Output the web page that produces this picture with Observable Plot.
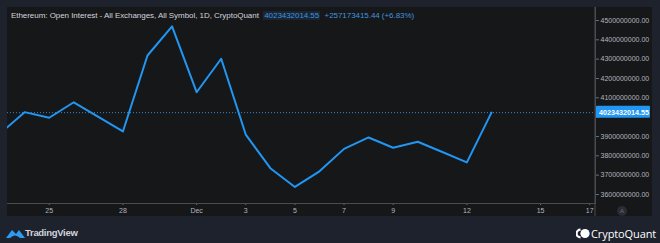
<!DOCTYPE html>
<html>
<head>
<meta charset="utf-8">
<script src="https://cdn.jsdelivr.net/npm/d3@7"></script>
<script src="https://cdn.jsdelivr.net/npm/@observablehq/plot@0.6"></script>
<style>
  html, body { margin: 0; padding: 0; background: #1e222d; }
  #wrap { position: relative; width: 660px; height: 243px; overflow: hidden; background: #1e222d; font-family: "Liberation Sans", Arial, sans-serif; }
  #panel { position: absolute; left: 7px; top: 7px; width: 645px; height: 209px; background: #161719; }
  #chart { position: absolute; left: 0; top: 0; }
  #title { position: absolute; left: 11px; top: 11px; font-size: 8px; color: #d1d4dc; white-space: nowrap; letter-spacing: -0.05px; }
  #title .v { color: #3f95de; background: #1a2433; padding: 0 1px; }
  #title .c { color: #3f95de; }
  #tv { position: absolute; left: 25px; top: 227px; font-size: 9.5px; color: #d1d4dc; font-weight: bold; letter-spacing: -0.3px; }
  #cq { position: absolute; left: 591px; top: 226px; font-size: 11px; color: #ffffff; font-family: "Open Sans", "Liberation Sans", sans-serif; letter-spacing: -0.1px; }
  #abtn { position: absolute; left: 617px; top: 206px; width: 10px; height: 10px; border-radius: 5px; background: #2a2c33; color: #6b6e76; font-size: 6px; text-align: center; line-height: 10px; }
</style>
</head>
<body>
<div id="wrap">
  <div id="panel"></div>
  <div id="chart"></div>
  <div id="title">Ethereum: Open Interest - All Exchanges, All Symbol, 1D, CryptoQuant&nbsp; <span class="v">4023432014.55</span>&nbsp; <span class="c">+257173415.44 (+6.83%)</span></div>
  <div id="abtn">A</div>
  <svg style="position:absolute;left:6px;top:227px" width="19" height="12" viewBox="0 0 19 12">
    <path d="M0 11 L6 3 L10 7 L13 3 L19 11 Z" fill="#2d9bf0"/>
    <path d="M4 11 Q9 6 14 11 Z" fill="#1e222d"/>
  </svg>
  <div id="tv">TradingView</div>
  <svg style="position:absolute;left:576px;top:228px" width="14" height="11" viewBox="0 0 14 11">
    <path d="M4.5 0.5 A5 5 0 0 0 4.5 10.5 L4.5 8.3 A2.8 2.8 0 0 1 4.5 2.7 Z" fill="#ffffff"/>
    <circle cx="9" cy="5.5" r="4.6" fill="#ffffff"/>
  </svg>
  <div id="cq">CryptoQuant</div>
</div>
<script>
const dates = [
  "2023-11-23","2023-11-24","2023-11-25","2023-11-26","2023-11-27","2023-11-28",
  "2023-11-29","2023-11-30","2023-12-01","2023-12-02","2023-12-03","2023-12-04",
  "2023-12-05","2023-12-06","2023-12-07","2023-12-08","2023-12-09","2023-12-10",
  "2023-12-11","2023-12-12","2023-12-13"
];
const openInterest = [
  3915e6, 4026e6, 3997e6, 4077e6, 4001e6, 3926e6,
  4319e6, 4470e6, 4129e6, 4302e6, 3910e6, 3736e6,
  3639e6, 3720e6, 3836e6, 3895e6, 3842e6, 3873e6,
  3820e6, 3766258599.11, 4023432014.55
];
const tickDates = ["2023-11-25","2023-11-28","2023-12-01","2023-12-03","2023-12-05","2023-12-07","2023-12-09","2023-12-12","2023-12-15","2023-12-17"];
const yTicks = [3600e6,3700e6,3800e6,3900e6,4000e6,4100e6,4200e6,4300e6,4400e6,4500e6];

const data = dates.map((d, i) => ({date: new Date(d + "T00:00:00Z"), value: openInterest[i]}));
const last = data[data.length - 1];

const axisColor = "#b2b5be";
const gridStroke = "#4a4c52";
const plot = Plot.plot({
  width: 660,
  height: 243,
  marginLeft: 7,
  marginRight: 65,
  marginTop: 7,
  marginBottom: 40,
  style: {background: "transparent", color: axisColor, fontFamily: "Liberation Sans, Arial, sans-serif", fontSize: "7px"},
  x: {type: "utc", domain: [new Date(Date.UTC(2023,10,23,7,16)), new Date(Date.UTC(2023,11,17,5,38))]},
  y: {domain: [3553.4e6, 4567.2e6]},
  marks: [
    Plot.ruleY([last.value], {stroke: "#2f86cf", strokeDasharray: "1,2", strokeWidth: 1}),
    Plot.line(data, {x: "date", y: "value", stroke: "#2196f3", strokeWidth: 2, clip: true}),
    Plot.axisY({anchor: "right", ticks: yTicks, tickSize: 3, tickPadding: 2, stroke: "#6b6e76",
      tickFormat: d => Math.abs(d - last.value) < 50e6 ? "" : d3.format(".2f")(d), label: null, fill: axisColor}),
    Plot.axisX({anchor: "bottom", ticks: tickDates.map(d => new Date(d + "T00:00:00Z")), tickSize: 2, tickPadding: 3, stroke: "#6b6e76",
      tickFormat: d => d.getUTCDate() === 1 ? "Dec" : String(d.getUTCDate()), label: null, fill: axisColor}),
    Plot.frame({anchor: "right", stroke: gridStroke}),
    Plot.frame({anchor: "bottom", stroke: gridStroke})
  ]
});
document.getElementById("chart").appendChild(plot);

// price label on the right axis, positioned with the plot's own y scale
const ys = plot.scale("y");
const py = ys.apply(last.value);
const svg = d3.select(plot);
svg.append("line").attr("x1", 595).attr("x2", 595).attr("y1", 7).attr("y2", 216).attr("stroke", gridStroke);
const g = svg.append("g");
g.append("rect").attr("x", 596).attr("y", py - 6.5).attr("width", 54).attr("height", 12).attr("fill", "#2196f3").attr("rx", 1);
g.append("text").attr("x", 599).attr("y", py).attr("dy", "0.35em").attr("fill", "#ffffff")
  .attr("text-anchor", "start")
  .style("font-size", "7.2px").style("font-weight", "600").style("font-family", "Liberation Sans, Arial, sans-serif")
  .text(d3.format(".2f")(last.value));
</script>
</body>
</html>
